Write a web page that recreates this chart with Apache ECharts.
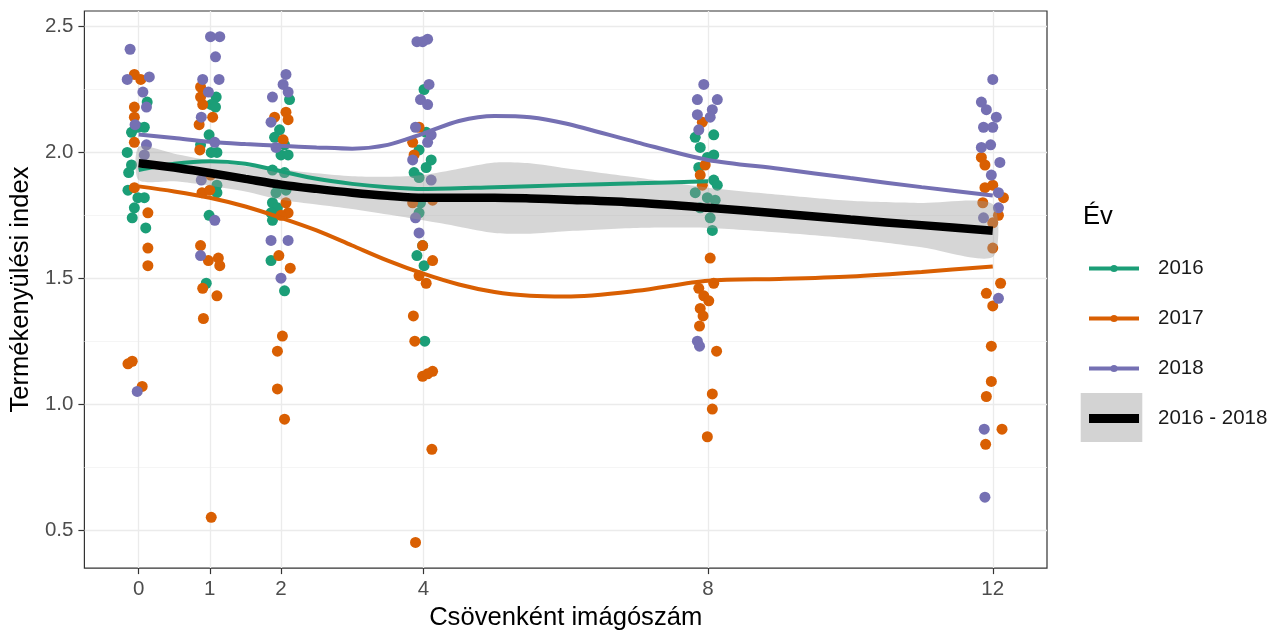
<!DOCTYPE html>
<html>
<head>
<meta charset="utf-8">
<script src="https://cdn.jsdelivr.net/npm/echarts@6/dist/echarts.min.js"></script>
<style>
  html, body { margin: 0; padding: 0; background: #fff; }
  #chart { width: 1269px; height: 636px; }
</style>
</head>
<body>
<div id="chart"></div>
<script>
// Axis breaks
const xTicks = [0, 1, 2, 4, 8, 12];
const yTicks = [0.5, 1.0, 1.5, 2.0, 2.5];
const yMinorTicks = [0.75, 1.25, 1.75, 2.25];

// Observations per year: [jittered imágószám, termékenyülési index]
const pts2016 = [
  [0.12, 2.20], [-0.10, 2.08], [-0.01, 2.10], [0.08, 2.10], [-0.16, 2.00], [-0.10, 1.95], [-0.14, 1.92],
  [-0.15, 1.85], [-0.01, 1.82], [0.08, 1.82], [-0.06, 1.78], [-0.09, 1.74], [0.10, 1.70],
  [1.09, 2.22], [1.02, 2.19], [1.08, 2.18], [0.99, 2.07], [0.87, 2.03], [1.10, 2.00], [1.02, 2.00],
  [1.10, 1.87], [1.10, 1.84], [0.99, 1.75], [0.95, 1.48],
  [2.12, 2.21], [1.98, 2.09], [1.91, 2.06], [2.05, 2.03], [2.00, 1.99], [2.10, 1.99], [1.88, 1.93],
  [2.05, 1.92], [1.95, 1.87], [2.07, 1.85], [1.93, 1.84], [1.88, 1.80], [1.95, 1.78], [1.86, 1.76],
  [1.88, 1.73], [1.86, 1.57], [2.05, 1.45],
  [4.01, 2.25], [4.04, 2.08], [3.94, 2.01], [4.11, 1.97], [4.04, 1.94], [3.87, 1.92], [3.94, 1.90],
  [3.96, 1.80], [3.94, 1.76], [3.99, 1.63], [3.91, 1.59], [4.01, 1.55], [4.02, 1.25],
  [7.82, 2.06], [8.08, 2.07], [7.89, 2.02], [8.08, 1.99], [7.99, 1.98], [7.87, 1.94], [8.08, 1.89],
  [8.13, 1.87], [7.82, 1.84], [7.99, 1.82], [8.10, 1.81], [7.89, 1.78], [8.03, 1.74], [8.06, 1.69]
];
const pts2017 = [
  [-0.06, 2.31], [0.03, 2.29], [-0.06, 2.18], [-0.06, 2.14], [-0.06, 2.04], [-0.06, 1.86], [0.13, 1.76],
  [0.13, 1.62], [0.13, 1.55], [-0.15, 1.16], [-0.09, 1.17], [0.05, 1.07],
  [0.87, 2.26], [0.87, 2.22], [0.90, 2.19], [1.04, 2.14], [0.85, 2.11], [0.86, 2.01], [1.01, 1.91],
  [0.89, 1.84], [1.00, 1.85], [0.87, 1.63], [0.98, 1.57], [1.12, 1.58], [1.14, 1.55], [0.90, 1.46],
  [1.10, 1.43], [0.91, 1.34], [1.02, 0.55],
  [1.91, 2.14], [2.07, 2.16], [2.10, 2.13], [2.03, 2.05], [2.07, 1.80], [2.10, 1.76], [2.00, 1.75],
  [1.97, 1.59], [2.13, 1.54], [2.02, 1.27], [1.95, 1.21], [1.95, 1.06], [2.05, 0.94],
  [3.94, 2.10], [3.85, 2.04], [3.87, 1.99], [3.85, 1.80], [4.13, 1.81], [3.99, 1.63], [4.13, 1.57],
  [3.94, 1.51], [4.04, 1.48], [3.86, 1.35], [3.88, 1.25], [3.99, 1.11], [4.13, 1.13], [4.06, 1.12],
  [4.12, 0.82], [3.89, 0.45],
  [7.92, 2.12], [7.96, 1.95], [7.89, 1.91], [7.92, 1.87], [8.03, 1.58], [7.87, 1.46], [8.08, 1.48],
  [7.94, 1.43], [8.01, 1.41], [7.89, 1.38], [7.93, 1.35], [7.88, 1.31], [8.12, 1.21], [8.06, 1.04],
  [8.06, 0.98], [7.99, 0.87],
  [11.84, 1.98], [11.89, 1.95], [12.00, 1.87], [11.89, 1.86], [12.15, 1.82], [11.86, 1.80], [12.08, 1.75],
  [12.00, 1.72], [12.00, 1.62], [12.11, 1.48], [11.91, 1.44], [12.00, 1.39], [11.98, 1.23], [11.98, 1.09],
  [11.91, 1.03], [12.13, 0.90], [11.90, 0.84]
];
const pts2018 = [
  [-0.12, 2.41], [-0.16, 2.29], [0.15, 2.30], [0.06, 2.24], [0.11, 2.18], [-0.05, 2.11], [0.11, 2.03],
  [0.08, 1.99], [-0.02, 1.05],
  [1.01, 2.46], [1.14, 2.46], [1.08, 2.38], [1.13, 2.29], [0.90, 2.29], [0.98, 2.24], [0.88, 2.14],
  [1.07, 2.04], [0.88, 1.89], [1.07, 1.73], [0.87, 1.59],
  [2.07, 2.31], [2.03, 2.27], [2.10, 2.24], [1.88, 2.22], [1.86, 2.12], [1.93, 2.02], [1.86, 1.65],
  [2.10, 1.65], [2.00, 1.50],
  [3.91, 2.44], [4.06, 2.45], [3.99, 2.44], [4.08, 2.27], [3.96, 2.21], [4.06, 2.19], [3.89, 2.10],
  [4.11, 2.07], [4.06, 2.04], [3.85, 1.97], [4.11, 1.89], [3.89, 1.74], [3.94, 1.68],
  [7.94, 2.27], [7.85, 2.21], [8.13, 2.21], [8.06, 2.17], [7.85, 2.15], [8.03, 2.14], [7.87, 2.09],
  [7.85, 1.25], [7.88, 1.23],
  [12.00, 2.29], [11.84, 2.20], [11.91, 2.17], [12.05, 2.14], [11.87, 2.10], [12.00, 2.10], [11.84, 2.02],
  [11.97, 2.03], [12.10, 1.96], [11.98, 1.91], [12.08, 1.84], [12.08, 1.78], [11.87, 1.74], [12.08, 1.42],
  [11.88, 0.90], [11.89, 0.63]
];

// Smoothed (loess) curves
const fitX2016 = [0, 0.5, 1, 1.5, 2, 2.5, 3, 3.5, 4, 5, 6, 7, 8];
const fit2016 = [1.93, 1.955, 1.965, 1.955, 1.925, 1.895, 1.875, 1.862, 1.855, 1.862, 1.87, 1.877, 1.885];
const fitX = [0, 0.5, 1, 1.5, 2, 2.5, 3, 3.5, 4, 4.5, 5, 5.5, 6, 7, 8, 9, 10, 11, 12];
const fit2017 = [1.865, 1.845, 1.82, 1.785, 1.74, 1.69, 1.63, 1.57, 1.518, 1.475, 1.445, 1.43, 1.427, 1.45, 1.49, 1.497, 1.507, 1.525, 1.547];
const fit2018 = [2.071, 2.057, 2.042, 2.033, 2.026, 2.02, 2.015, 2.03, 2.075, 2.125, 2.145, 2.14, 2.115, 2.04, 1.97, 1.935, 1.898, 1.862, 1.829];
const fitAll = [1.957, 1.94, 1.918, 1.895, 1.872, 1.855, 1.84, 1.828, 1.82, 1.82, 1.82, 1.817, 1.812, 1.80, 1.78, 1.757, 1.733, 1.711, 1.689];
const bandLow = [1.89, 1.885, 1.868, 1.845, 1.812, 1.793, 1.775, 1.753, 1.73, 1.705, 1.68, 1.677, 1.687, 1.70, 1.70, 1.682, 1.658, 1.623, 1.584];
const bandHigh = [2.022, 1.995, 1.968, 1.945, 1.932, 1.917, 1.905, 1.903, 1.91, 1.935, 1.96, 1.957, 1.937, 1.90, 1.86, 1.832, 1.808, 1.799, 1.794];

const COLORS = { '2016': '#1B9E77', '2017': '#D95F02', '2018': '#7570B3' };
const FONT = 'Liberation Sans, Arial, sans-serif';

const pair = (xs, ys) => xs.map((x, i) => [x, ys[i]]);

const chart = echarts.init(document.getElementById('chart'), null, { renderer: 'canvas' });

const fitLine = (name, xs, ys, color, width, z) => ({
  name, type: 'line', data: pair(xs, ys), smooth: 0.3, symbol: 'none', showSymbol: false,
  lineStyle: { color, width }, itemStyle: { color }, z, silent: true
});
const points = (name, data) => ({
  name, type: 'scatter', data, symbolSize: 11, z: 2, silent: true,
  itemStyle: { color: COLORS[name], opacity: 1 }
});

// Confidence ribbon of the pooled smoother, drawn as one closed shape
const ribbon = {
  name: 'ribbon', type: 'custom', z: 3, silent: true,
  data: pair(fitX, bandLow),
  renderItem: (params, api) => {
    if (params.dataIndex !== 0) return null;
    const upper = fitX.map((x, i) => api.coord([x, bandHigh[i]]));
    const lower = fitX.map((x, i) => api.coord([x, bandLow[i]])).reverse();
    return {
      type: 'polygon',
      shape: { points: upper.concat(lower), smooth: 0.25 },
      style: { fill: 'rgba(153,153,153,0.4)' }
    };
  }
};

const legendLine = (name) => ({ name, lineStyle: { width: 4, color: COLORS[name] } });

chart.setOption({
  animation: false,
  backgroundColor: '#ffffff',
  textStyle: { fontFamily: FONT },
  grid: {
    left: 83, right: 222, top: 11, bottom: 61,
    show: true, borderColor: '#333333', borderWidth: 1.2, backgroundColor: 'transparent'
  },
  xAxis: {
    type: 'value', min: -0.762, max: 12.762,
    name: 'Csövenként imágószám', nameLocation: 'middle', nameGap: 34,
    nameTextStyle: { fontSize: 25.6, color: '#000', fontFamily: FONT },
    axisLine: { show: false, onZero: false },
    axisTick: { show: true, length: 6, lineStyle: { color: '#333333', width: 1.2 }, customValues: xTicks },
    axisLabel: { fontSize: 20.5, color: '#4D4D4D', margin: 11, fontFamily: FONT, customValues: xTicks, formatter: v => String(v) },
    splitLine: { show: true, lineStyle: { color: '#EBEBEB', width: 1.3 } }
  },
  yAxis: [{
    type: 'value', min: 0.348, max: 2.562, position: 'left',
    name: 'Termékenyülési index', nameLocation: 'middle', nameGap: 43, nameRotate: 90,
    nameTextStyle: { fontSize: 25.6, color: '#000', fontFamily: FONT },
    axisLine: { show: false, onZero: false },
    axisTick: { show: true, length: 6, lineStyle: { color: '#333333', width: 1.2 }, customValues: yTicks },
    axisLabel: { fontSize: 20.5, color: '#4D4D4D', margin: 11, fontFamily: FONT, customValues: yTicks, formatter: v => v.toFixed(1) },
    splitLine: { show: true, lineStyle: { color: '#EBEBEB', width: 1.3 } }
  }, {
    type: 'value', min: 0.348, max: 2.562, position: 'right',
    axisLine: { show: false, onZero: false },
    axisTick: { show: false, customValues: yMinorTicks },
    axisLabel: { show: false, customValues: yMinorTicks },
    splitLine: { show: true, lineStyle: { color: '#F3F3F3', width: 0.8 } }
  }],
  legend: {
    orient: 'vertical', left: 1087, top: 258, padding: 0,
    itemWidth: 50, itemHeight: 9, itemGap: 29,
    selectedMode: false,
    textStyle: { fontSize: 20.5, color: '#1A1A1A', fontFamily: FONT, padding: [0, 0, 0, 14] },
    data: [
      legendLine('2016'), legendLine('2017'), legendLine('2018'),
      { name: '2016 - 2018', icon: 'rect', itemStyle: { color: '#000' } }
    ]
  },
  graphic: [
    {
      type: 'text', left: 1083, top: 204, z: 10,
      style: { text: 'Év', font: '25.6px ' + FONT, fill: '#000' }
    },
    {
      type: 'rect', left: 1080.7, top: 393, z: -1,
      shape: { width: 61.6, height: 49 },
      style: { fill: '#D3D3D3' }
    }
  ],
  series: [
    fitLine('2016', fitX2016, fit2016, COLORS['2016'], 4, 5),
    fitLine('2017', fitX, fit2017, COLORS['2017'], 4, 5),
    fitLine('2018', fitX, fit2018, COLORS['2018'], 4, 5),
    points('2016', pts2016),
    points('2017', pts2017),
    points('2018', pts2018),
    ribbon,
    fitLine('2016 - 2018', fitX, fitAll, '#000000', 8.5, 6)
  ]
});
</script>
</body>
</html>
